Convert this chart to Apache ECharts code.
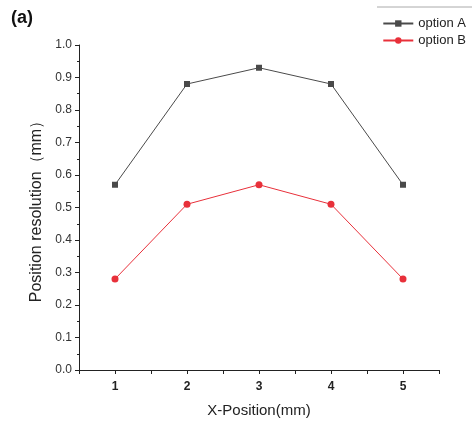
<!DOCTYPE html>
<html><head><meta charset="utf-8">
<script src="https://cdn.jsdelivr.net/npm/echarts@6/dist/echarts.min.js"></script>
<style>html,body{margin:0;padding:0;background:#fff}#c{width:472px;height:423px}</style>
</head><body><div id="c"></div>
<script>
const xPositions = [1, 2, 3, 4, 5];
const optionA = [0.57, 0.88, 0.93, 0.88, 0.57];
const optionB = [0.28, 0.51, 0.57, 0.51, 0.28];
const yTicks = [0.0, 0.1, 0.2, 0.3, 0.4, 0.5, 0.6, 0.7, 0.8, 0.9, 1.0];

const font = 'Liberation Sans, Arial, sans-serif';
const chart = echarts.init(document.getElementById('c'));
chart.setOption({
  animation: false,
  textStyle: { fontFamily: font },
  grid: { left: 79, right: 33, top: 45, bottom: 51 },
  graphic: [
    { type: 'text', left: 11, top: 9, style: { text: '(a)', font: 'bold 18px ' + font, fill: '#111' } },
    { type: 'line', shape: { x1: 377, y1: 7, x2: 472, y2: 7 }, style: { stroke: '#aaa', lineWidth: 1 } }
  ],
  legend: {
    orient: 'vertical', right: 1, top: 12, itemGap: 4, itemWidth: 30, itemHeight: 8,
    textStyle: { fontSize: 13, color: '#222', fontFamily: font },
    data: ['option A', 'option B']
  },
  xAxis: {
    type: 'value', min: 0.5, max: 5.5, interval: 0.5,
    name: 'X-Position(mm)', nameLocation: 'middle', nameGap: 33,
    nameTextStyle: { fontSize: 15, color: '#222' },
    axisLine: { lineStyle: { color: '#222', width: 1 } },
    axisTick: { show: true, length: 4, inside: false, lineStyle: { color: '#222' } },
    axisLabel: { fontSize: 12, color: '#222', fontWeight: 'bold', margin: 11,
      formatter: v => (xPositions.indexOf(v) >= 0 ? String(v) : '') },
    splitLine: { show: false }
  },
  yAxis: {
    type: 'value', min: 0, max: 1.0, interval: 0.1,
    name: 'Position resolution（mm）', nameLocation: 'middle', nameGap: 34,
    nameTextStyle: { fontSize: 16, color: '#222' },
    axisLine: { show: true, lineStyle: { color: '#222', width: 1 } },
    axisTick: { show: true, length: 4, lineStyle: { color: '#222' } },
    minorTick: { show: true, splitNumber: 2, length: 2, lineStyle: { color: '#222' } },
    axisLabel: { fontSize: 12, color: '#333', margin: 7,
      formatter: v => { const t = yTicks.find(x => Math.abs(x - v) < 1e-9); return t === undefined ? '' : t.toFixed(1); } },
    splitLine: { show: false }
  },
  series: [
    { name: 'option A', type: 'line', data: xPositions.map((x, i) => [x, optionA[i]]),
      symbol: 'rect', symbolSize: 6, color: '#4a4a4a',
      lineStyle: { color: '#4a4a4a', width: 1 }, itemStyle: { color: '#4a4a4a' } },
    { name: 'option B', type: 'line', data: xPositions.map((x, i) => [x, optionB[i]]),
      symbol: 'circle', symbolSize: 7, color: '#e8303a',
      lineStyle: { color: '#e8303a', width: 1 }, itemStyle: { color: '#e8303a' } }
  ]
});
</script></body></html>
